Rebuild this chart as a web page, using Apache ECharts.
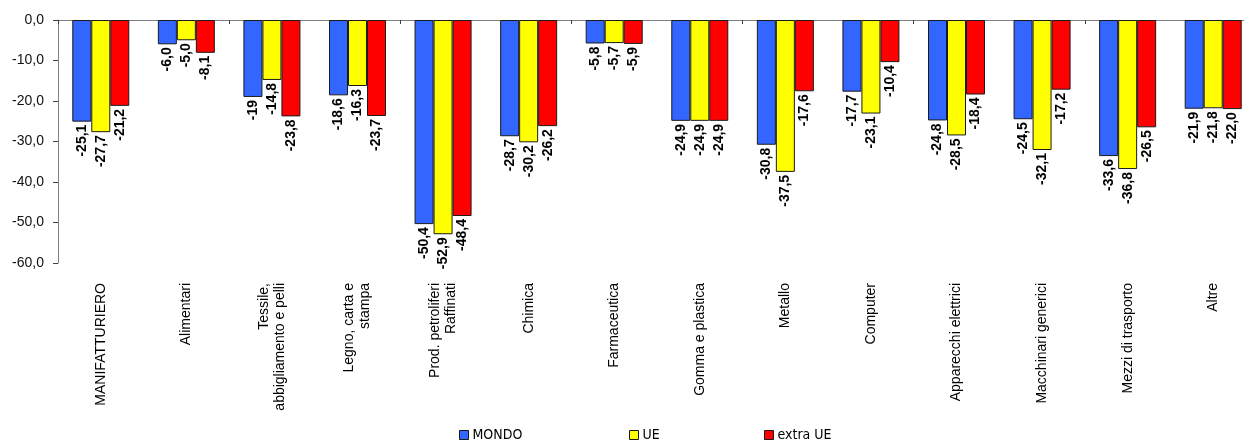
<!DOCTYPE html>
<html><head><meta charset="utf-8">
<script src="https://cdn.jsdelivr.net/npm/echarts@6/dist/echarts.min.js"></script>
<style>html,body{margin:0;padding:0;background:#fff}#c{width:1244px;height:441px}</style>
</head><body><div id="c"></div>
<script>
const categories = ["MANIFATTURIERO","Alimentari","Tessile,\nabbigliamento e pelli","Legno, carta e\nstampa","Prod. petroliferi\nRaffinati","Chimica","Farmaceutica","Gomma e plastica","Metallo","Computer","Apparecchi elettrici","Macchinari generici","Mezzi di trasporto","Altre"];
const mondo   = ["-25,1","-6,0","-19","-18,6","-50,4","-28,7","-5,8","-24,9","-30,8","-17,7","-24,8","-24,5","-33,6","-21,9"];
const ue      = ["-27,7","-5,0","-14,8","-16,3","-52,9","-30,2","-5,7","-24,9","-37,5","-23,1","-28,5","-32,1","-36,8","-21,8"];
const extraUe = ["-21,2","-8,1","-23,8","-23,7","-48,4","-26,2","-5,9","-24,9","-17,6","-10,4","-18,4","-17,2","-26,5","-22,0"];
const yTicks = {min:-60, max:0, interval:10};

const toData = arr => arr.map(s => ({value: parseFloat(s.replace(',', '.')), text: s}));
const font = "'Liberation Sans', Arial, sans-serif";

function mkSeries(name, arr, color){
  return {
    name, type:'bar', xAxisIndex:0, data: toData(arr),
    barWidth:19, barGap:'0%',
    itemStyle:{color, borderColor:'#1a1a1a', borderWidth:1},
    label:{show:true, position:'bottom', distance:3, rotate:90, align:'right', verticalAlign:'middle',
      fontFamily:font, fontSize:14, fontWeight:'bold', color:'#000',
      formatter: p => p.data.text},
    emphasis:{disabled:true}
  };
}
function mkLegend(name, left){
  return {data:[name], left, top:428, icon:'rect', itemWidth:9, itemHeight:9, itemGap:4,
    itemStyle:{borderColor:'#1a1a1a', borderWidth:1},
    textStyle:{fontFamily:"'DejaVu Sans Condensed', 'Liberation Sans Narrow', sans-serif", fontSize:14, color:'#000', padding:[0,0,0,-1]},
    padding:0};
}
const chart = echarts.init(document.getElementById('c'), null, {renderer:'canvas'});
chart.setOption({
  animation:false,
  backgroundColor:'#fff',
  grid:{left:58, top:20, height:243, width:1198, containLabel:false, outerBoundsMode:'none'},
  legend:[mkLegend('MONDO',459), mkLegend('UE',629), mkLegend('extra UE',764)],
  xAxis:[
    {type:'category', data:categories, position:'bottom',
     axisLine:{show:false, onZero:false}, axisTick:{show:false},
     axisLabel:{rotate:90, margin:20, interval:0, fontFamily:font, fontSize:14, color:'#000', lineHeight:16}},
    {type:'category', data:categories, position:'top',
     axisLine:{show:true, onZero:false, lineStyle:{color:'#808080', width:1}},
     axisTick:{show:true, inside:true, length:4, lineStyle:{color:'#404040'}},
     axisLabel:{show:false}}
  ],
  yAxis:{type:'value', min:yTicks.min, max:yTicks.max, interval:yTicks.interval,
    axisLine:{show:true, lineStyle:{color:'#808080', width:1}},
    axisTick:{show:true, length:5, lineStyle:{color:'#404040'}},
    splitLine:{show:false},
    axisLabel:{margin:14, fontFamily:font, fontSize:14, color:'#111',
      formatter: v => v.toFixed(1).replace('.', ',')}},
  series:[mkSeries('MONDO', mondo, '#3366FF'), mkSeries('UE', ue, '#FFFF00'), mkSeries('extra UE', extraUe, '#FF0000')]
});
</script></body></html>
